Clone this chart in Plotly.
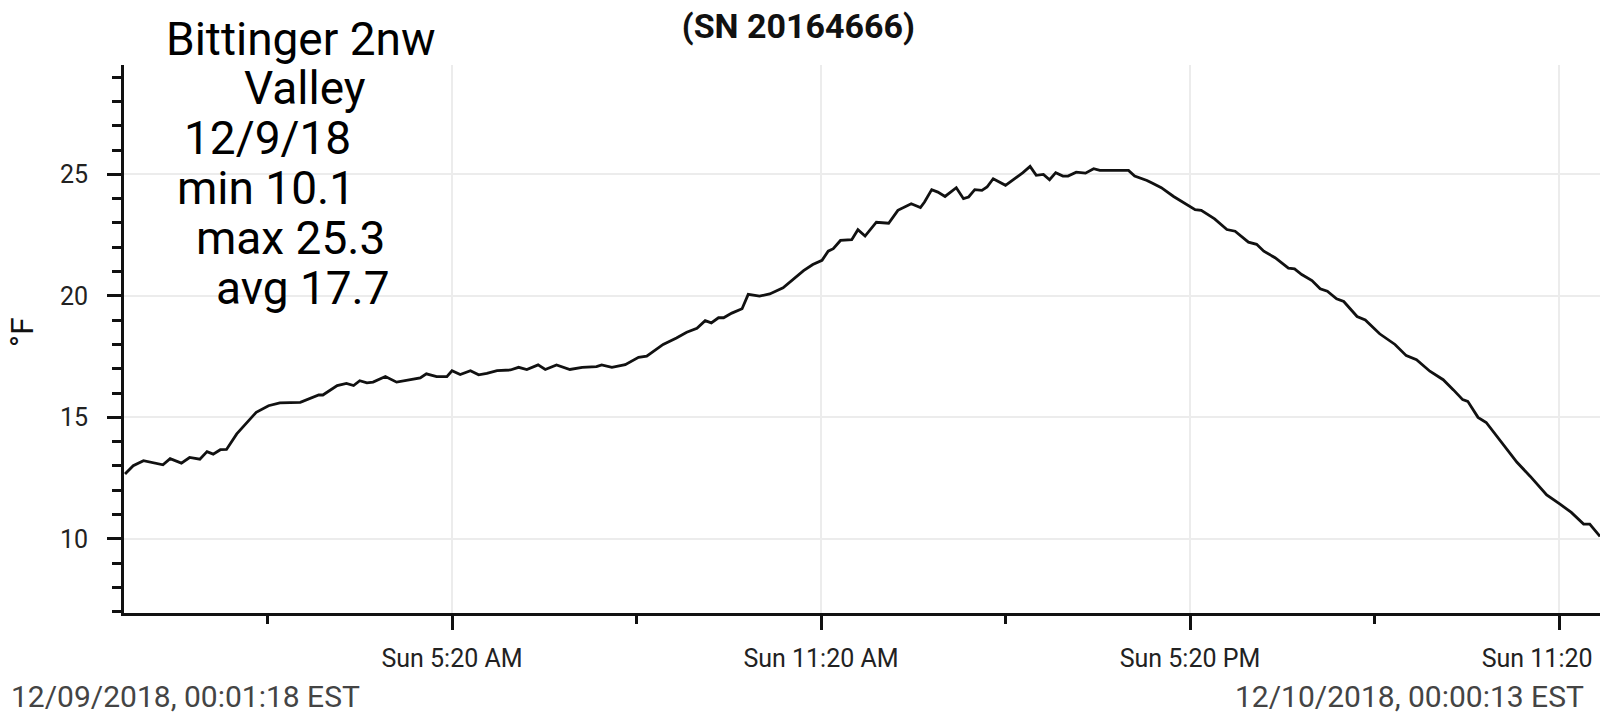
import pandas as pd
import plotly.graph_objects as go

# Minutes after midnight, 12/09/2018 (EST)
minutes = [1, 9, 19, 29, 38, 45, 56, 64, 74, 81, 87, 94, 100, 110, 120, 129, 141, 152, 172,
           181, 190, 194, 208, 217, 224, 230, 237, 243, 255, 266, 276, 289, 295, 305, 315,
           320, 328, 338, 346, 354, 364, 377, 385, 393, 404, 411, 422, 435, 447, 461, 466,
           476, 489, 502, 510, 526, 539, 549, 559, 567, 573, 580, 585, 593, 603, 609, 620,
           630, 643, 653, 663, 672, 681, 687, 692, 699, 710, 716, 723, 734, 746, 755, 768,
           777, 781, 788, 794, 801, 812, 819, 824, 830, 837, 842, 848, 860, 871, 877, 884,
           890, 897, 903, 909, 916, 921, 929, 938, 946, 952, 980, 986, 998, 1003, 1012,
           1024, 1033, 1045, 1051, 1064, 1076, 1084, 1097, 1105, 1112, 1123, 1136, 1142,
           1149, 1159, 1167, 1174, 1183, 1190, 1203, 1211, 1225, 1240, 1251, 1261, 1274,
           1287, 1297, 1306, 1311, 1321, 1329, 1342, 1359, 1372, 1388, 1401, 1412, 1424,
           1430, 1440]
temps_f = [12.67, 13.01, 13.22, 13.12, 13.05, 13.30, 13.12, 13.35, 13.28, 13.59, 13.49, 13.67,
           13.68, 14.32, 14.79, 15.21, 15.48, 15.60, 15.62, 15.76, 15.92, 15.92, 16.31, 16.40,
           16.31, 16.51, 16.42, 16.45, 16.68, 16.45, 16.52, 16.62, 16.79, 16.68, 16.68, 16.92,
           16.76, 16.92, 16.75, 16.81, 16.92, 16.95, 17.06, 16.97, 17.16, 16.97, 17.16, 16.97,
           17.06, 17.09, 17.16, 17.06, 17.17, 17.47, 17.52, 18.00, 18.27, 18.50, 18.67, 18.98,
           18.89, 19.10, 19.10, 19.29, 19.47, 20.06, 19.99, 20.08, 20.33, 20.67, 21.04, 21.29,
           21.46, 21.84, 21.94, 22.28, 22.31, 22.72, 22.46, 23.03, 22.99, 23.52, 23.79, 23.63,
           23.86, 24.37, 24.27, 24.09, 24.45, 24.00, 24.07, 24.37, 24.34, 24.48, 24.82, 24.55,
           24.89, 25.07, 25.33, 24.96, 25.00, 24.78, 25.07, 24.93, 24.93, 25.09, 25.05, 25.23,
           25.16, 25.16, 24.93, 24.75, 24.64, 24.45, 24.09, 23.86, 23.55, 23.52, 23.17, 22.73,
           22.66, 22.21, 22.12, 21.84, 21.57, 21.14, 21.11, 20.88, 20.63, 20.29, 20.19, 19.88,
           19.77, 19.15, 19.01, 18.44, 18.00, 17.54, 17.37, 16.90, 16.55, 16.13, 15.73, 15.66,
           15.00, 14.79, 14.07, 13.15, 12.57, 11.81, 11.43, 11.09, 10.61, 10.61, 10.10]

x_tick_vals = ["2018-12-09 05:20", "2018-12-09 11:20", "2018-12-09 17:20", "2018-12-09 23:20"]
x_tick_text = ["Sun 5:20 AM", "Sun 11:20 AM", "Sun 5:20 PM", "Sun 11:20 PM"]
y_tick_vals = [10, 15, 20, 25]
x_range = ["2018-12-09 00:00:00", "2018-12-10 00:00:00"]
y_range = [6.95, 29.5]

title_text = "(SN 20164666)"
y_title = "°F"
note_lines = ["Bittinger 2nw", "Valley", "12/9/18", "min 10.1", "max 25.3", "avg 17.7"]
start_label = "12/09/2018, 00:01:18 EST"
end_label = "12/10/2018, 00:00:13 EST"

times = pd.Timestamp("2018-12-09 00:00:00") + pd.to_timedelta(minutes, unit="m")

W, H = 1600, 727
L, R, T, B = 124, 0, 65, 114
pw, ph = W - L - R, H - T - B


def px(xp):
    return (xp - L) / pw


def py(yp):
    return (H - B - yp) / ph


fig = go.Figure()
fig.add_trace(go.Scatter(x=times, y=temps_f, mode="lines",
                         line=dict(color="#111111", width=2.8), showlegend=False))

FONT = "Roboto"
fig.update_layout(
    width=W, height=H,
    margin=dict(l=L, r=R, t=T, b=B, autoexpand=False),
    paper_bgcolor="white", plot_bgcolor="white",
    font=dict(family=FONT, color="#222222"),
    title=dict(text="<b>" + title_text + "</b>", x=0.499, xref="container", xanchor="center",
               y=1 - 26 / H, yref="container", yanchor="middle",
               font=dict(family=FONT, size=34, color="#111111")),
    xaxis=dict(type="date", range=x_range, tickvals=x_tick_vals, ticktext=x_tick_text,
               showline=True, linecolor="#111111", linewidth=3,
               ticks="outside", ticklen=14, tickwidth=3, tickcolor="#111111",
               tickfont=dict(family=FONT, size=25, color="#222222"),
               ticklabelstandoff=7, ticklabeloverflow="allow",
               showgrid=True, gridcolor="#ececec", gridwidth=1.5, zeroline=False,
               minor=dict(dtick=3 * 3600 * 1000, tick0="2018-12-09 02:20", ticks="outside",
                          ticklen=8, tickwidth=3, tickcolor="#111111", showgrid=False),
               automargin=False),
    yaxis=dict(range=y_range, tickvals=y_tick_vals,
               showline=True, linecolor="#111111", linewidth=3,
               ticks="outside", ticklen=14, tickwidth=3, tickcolor="#111111",
               tickfont=dict(family=FONT, size=25, color="#222222"),
               ticklabelstandoff=14,
               showgrid=True, gridcolor="#ececec", gridwidth=1.5, zeroline=False,
               minor=dict(dtick=1, tick0=0, ticks="outside", ticklen=9, tickwidth=3,
                          tickcolor="#111111", showgrid=False),
               automargin=False),
)

# Y axis title
fig.add_annotation(text=y_title, xref="paper", yref="paper", x=px(22), y=py(332),
                   xanchor="center", yanchor="middle", textangle=-90, showarrow=False,
                   font=dict(family=FONT, size=32, color="#111111"))

# Overlaid note block
note_x = [301, 305, 267, 266, 290, 303]
note_y = [39, 88, 137.5, 187.5, 237.5, 287.5]
for txt, xc, yc in zip(note_lines, note_x, note_y):
    fig.add_annotation(text=txt, xref="paper", yref="paper", x=px(xc), y=py(yc),
                       xanchor="center", yanchor="middle", showarrow=False,
                       font=dict(family=FONT, size=46, color="#000000"))

# Start / end footer labels
fig.add_annotation(text=start_label, xref="paper", yref="paper", x=px(9), y=py(696),
                   xanchor="left", yanchor="middle", showarrow=False,
                   font=dict(family=FONT, size=30, color="#444444"))
fig.add_annotation(text=end_label, xref="paper", yref="paper", x=px(1586), y=py(696),
                   xanchor="right", yanchor="middle", showarrow=False,
                   font=dict(family=FONT, size=30, color="#444444"))

fig.write_html("out.html", config={"displayModeBar": False},
               post_script="document.body.style.margin='0';document.body.style.overflow='hidden';")
